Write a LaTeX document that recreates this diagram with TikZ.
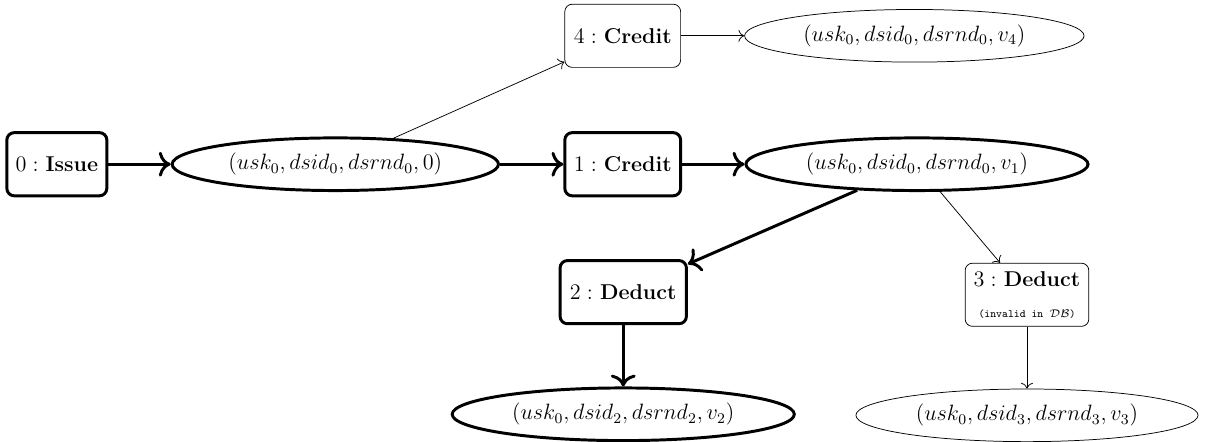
\documentclass[tikz,border=0pt]{standalone}
\usetikzlibrary{shapes.geometric, arrows.meta}

\begin{document}
\begin{tikzpicture}[
	font=\fontsize{11.6}{14}\selectfont,
	>={To[scale=1.25]},
	vb/.style = {rectangle, draw=black, ultra thick, rounded corners=4pt, minimum height=1.2cm},
	ib/.style = {rectangle, draw=black, thin, rounded corners=4pt, minimum height=1.2cm},
	ve/.style = {ellipse, draw=black, ultra thick, minimum width=6.4cm, minimum height=1cm},
	ie/.style = {ellipse, draw=black, thin, minimum width=6.4cm, minimum height=1cm},
	vr/.style = {->, ultra thick},
	ir/.style = {->, thin}
	]
	
	\useasboundingbox (0, 0) rectangle (22.93, -8.38);
	
	% ===== ===== ===== ===== =====
	
	% Nodes
	\node[vb, minimum width=1.9cm]	(s0)	at	(1.08, -3.12)	{$0:$ \textbf{Issue}};
	\node[ve, minimum width=6.2cm]	(c0)	at	(6.37, -3.12)	{$(usk_0, dsid_0, dsrnd_0, 0)$};
	\node[vb, minimum width=2.2cm]	(s1)	at	(11.83, -3.12)	{$1:$ \textbf{Credit}};
	\node[ve, minimum width=6.5cm]	(c1)	at	(17.42, -3.12)	{$(usk_0, dsid_0, dsrnd_0, v_1)$};
	
	\node[ib, minimum width=2.2cm]	(s4)	at	(11.83, -0.68)	{$4:$ \textbf{Credit}};
	\node[ie, minimum width=6.45cm]	(c4)	at	(17.37, -0.68)	{$(usk_0, dsid_0, dsrnd_0, v_4)$};
	
	\node[vb, minimum width=2.4cm]	(s2)	at	(11.84, -5.55)	{$2:$ \textbf{Deduct}};
	\node[ve, minimum width=6.5cm]	(c2)	at	(11.84, -7.87)	{$(usk_0, dsid_2, dsrnd_2, v_2)$};
	
	\node[ib, minimum width=2.35cm, align=center]	(s3)	at	(19.51, -5.6)
		{$3:$ \textbf{Deduct}\\[3pt] {\fontsize{6}{7}\selectfont\texttt{(invalid in $\mathcal{DB}$)}}};
	\node[ie, minimum width=6.5cm]	(c3)	at	(19.51, -7.89)	{$(usk_0, dsid_3, dsrnd_3, v_3)$};
	
	
	
	% Lines
	\draw[vr]	(s0)	to	(c0);
	\draw[vr]	(c0)	to	(s1);
	\draw[vr]	(s1)	to	(c1);
	\draw[vr]	(c1)	to	(s2);
	\draw[vr]	(s2)	to	(c2);
	
	\draw[ir]	(c0)	to	(s4);
	\draw[ir]	(s4)	to	(c4);
	\draw[ir]	(c1)	to	(s3);
	\draw[ir]	(s3)	to	(c3);
	
\end{tikzpicture}
\end{document}
